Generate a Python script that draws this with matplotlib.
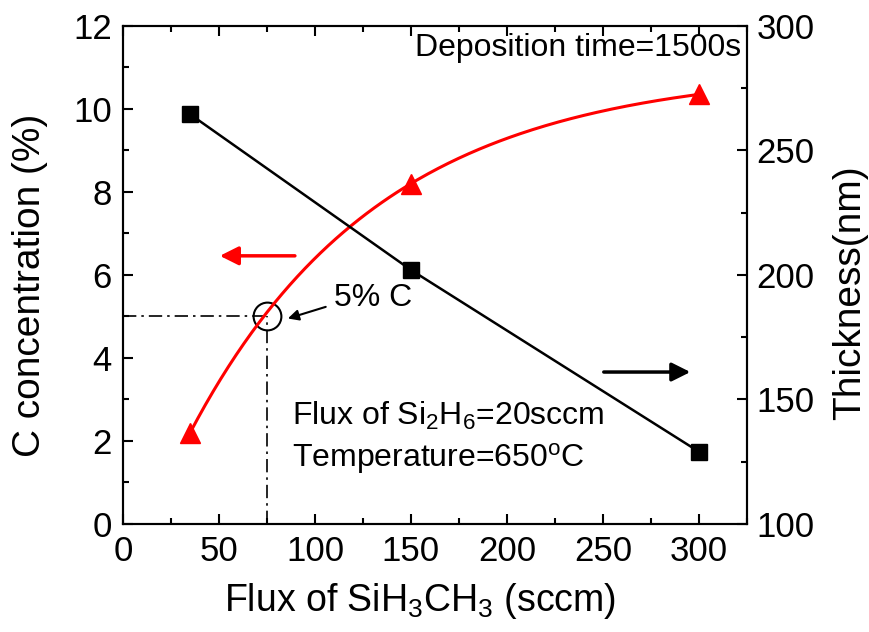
import numpy as np
import matplotlib
matplotlib.use('Agg')
import matplotlib.pyplot as plt
from matplotlib.ticker import MultipleLocator

plt.rcParams['font.family'] = ['Liberation Sans', 'DejaVu Sans']
plt.rcParams['mathtext.fontset'] = 'custom'
plt.rcParams['mathtext.rm'] = 'Liberation Sans'
plt.rcParams['mathtext.it'] = 'Liberation Sans:italic'

# data
flux = [35, 150, 300]
c_conc = [2.2, 8.2, 10.35]       # %
thickness = [264.5, 202, 129]    # nm

# saturating exponential y = a - b*exp(-x/t) through the three C points
x1, x2, x3 = flux
y1, y2, y3 = c_conc
target = (y2 - y1) / (y3 - y2)
lo, hi = 10.0, 1000.0
for i in range(100):
    t = (lo + hi) / 2
    r = (np.exp(-x1/t) - np.exp(-x2/t)) / (np.exp(-x2/t) - np.exp(-x3/t))
    if r > target:
        lo = t
    else:
        hi = t
b = (y2 - y1) / (np.exp(-x1/t) - np.exp(-x2/t))
a = y1 + b*np.exp(-x1/t)
xs = np.linspace(x1, x3, 200)
ys = a - b*np.exp(-xs/t)

fig = plt.figure(figsize=(8.69, 6.32), dpi=100)
ax = fig.add_axes([0.1415, 0.171, 0.718, 0.788])
ax2 = ax.twinx()

ax.plot(xs, ys, color='red', lw=2.2, zorder=3)
ax.plot(flux, c_conc, '^', color='red', ms=15, zorder=4)
ax2.plot(flux, thickness, '-s', color='black', lw=1.8, ms=12)

ax.set_xlim(0, 325)
ax.set_ylim(0, 12)
ax2.set_ylim(100, 300)

# 5% C guide
ax.plot([0, 75], [5, 5], color='black', lw=1.2, ls='-.', dashes=(8, 3, 1.5, 3))
ax.plot([75, 75], [0, 5], color='black', lw=1.2, ls='-.', dashes=(8, 3, 1.5, 3))
ax.plot([75], [5], 'o', mfc='none', mec='black', ms=20, mew=1.5)
ax.annotate('', xy=(84.5, 4.93), xytext=(107, 5.25),
            arrowprops=dict(arrowstyle='-|>', color='black', lw=1.5, mutation_scale=16))
ax.text(110, 5.45, '5% C', fontsize=23, va='center', ha='left')

# direction arrows
ax.annotate('', xy=(49, 6.46), xytext=(91, 6.46),
            arrowprops=dict(arrowstyle='-|>', color='red', lw=2.5, mutation_scale=28))
ax.annotate('', xy=(297, 3.66), xytext=(249, 3.66),
            arrowprops=dict(arrowstyle='-|>', color='black', lw=2.5, mutation_scale=28))

ax.text(0.99, 0.985, 'Deposition time=1500s', transform=ax.transAxes,
        ha='right', va='top', fontsize=23)
ax.text(88, 2.6, 'Flux of Si$_2$H$_6$=20sccm', fontsize=23, va='center')
ax.text(88, 1.57, 'Temperature=650$^\\mathrm{o}$C', fontsize=23, va='center')

ax.set_xlabel('Flux of SiH$_3$CH$_3$ (sccm)', fontsize=27)
ax.set_ylabel('C concentration (%)', fontsize=28)
ax2.set_ylabel('Thickness(nm)', fontsize=28)
ax.xaxis.set_label_coords(0.476, -0.115)
ax.yaxis.set_label_coords(-0.12, 0.48)
ax2.yaxis.set_label_coords(1.136, 0.464)

ax.xaxis.set_major_locator(MultipleLocator(50))
ax.xaxis.set_minor_locator(MultipleLocator(25))
ax.yaxis.set_major_locator(MultipleLocator(2))
ax.yaxis.set_minor_locator(MultipleLocator(1))
ax2.yaxis.set_major_locator(MultipleLocator(50))
ax2.yaxis.set_minor_locator(MultipleLocator(25))

ax.tick_params(which='both', direction='in', top=True, width=1.5, labelsize=25, pad=8)
ax.tick_params(which='major', length=7)
ax.tick_params(which='minor', length=4)
ax2.tick_params(which='both', direction='in', width=1.5, labelsize=25, pad=7)
ax2.tick_params(which='major', length=7)
ax2.tick_params(which='minor', length=4)
for s in ax.spines.values():
    s.set_linewidth(1.5)
for s in ax2.spines.values():
    s.set_linewidth(1.5)

fig.savefig('out.png', dpi=100)
